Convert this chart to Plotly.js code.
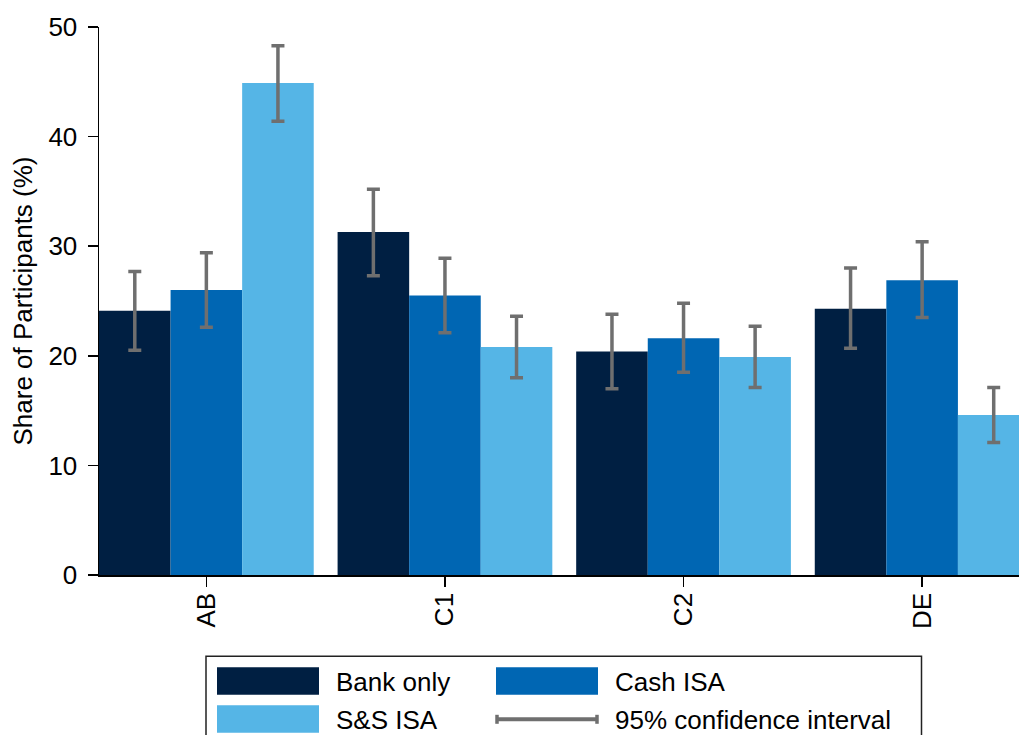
<!DOCTYPE html>
<html>
<head>
<meta charset="utf-8">
<script src="https://cdn.plot.ly/plotly-3.0.1.min.js"></script>
<style>html,body{margin:0;padding:0;overflow:hidden;background:#fff}</style>
</head>
<body>
<div id="chart" style="width:1019px;height:735px"></div>
<script>
const categories = ["AB", "C1", "C2", "DE"];
const seriesNames = ["Bank only", "Cash ISA", "S&S ISA"];
const bankOnly = [24.1, 31.3, 20.4, 24.3];
const bankLow  = [20.5, 27.3, 17.0, 20.7];
const bankHigh = [27.7, 35.2, 23.8, 28.0];
const cashIsa  = [26.0, 25.5, 21.6, 26.9];
const cashLow  = [22.6, 22.1, 18.5, 23.5];
const cashHigh = [29.4, 28.9, 24.8, 30.4];
const ssIsa    = [44.9, 20.8, 19.9, 14.6];
const ssLow    = [41.4, 18.0, 17.1, 12.1];
const ssHigh   = [48.3, 23.6, 22.7, 17.1];
const yTicks = [0, 10, 20, 30, 40, 50];
const ciLabel = "95% confidence interval";

const colors = ["#001f42", "#0066b3", "#55b5e6"];
const errColor = "#6f6f6f";
const FONT = "Liberation Sans, Arial, Helvetica, sans-serif";
const FS = 26;

function mk(name, vals, lo, hi, color) {
  return {
    type: "bar", name: name, x: categories, y: vals,
    marker: {color: color, line: {width: 0}},
    error_y: {
      type: "data", symmetric: false,
      array: vals.map((v, i) => hi[i] - v),
      arrayminus: vals.map((v, i) => v - lo[i]),
      color: errColor, thickness: 3.5, width: 6.5
    },
    showlegend: false, hoverinfo: "skip"
  };
}
const data = [
  mk(seriesNames[0], bankOnly, bankLow, bankHigh, colors[0]),
  mk(seriesNames[1], cashIsa, cashLow, cashHigh, colors[1]),
  mk(seriesNames[2], ssIsa, ssLow, ssHigh, colors[2])
];

// plot area in pixels
const L = 99, R = 1019, T = 26.7, B = 574.7;
const px = x => (x - L) / (R - L);
const py = y => (B - y) / (B - T);

const shapes = [];
const annotations = [];
// legend box
shapes.push({type: "rect", xref: "paper", yref: "paper",
  x0: px(206), x1: px(921.5), y0: py(760), y1: py(656),
  line: {color: "#222", width: 1.5}, fillcolor: "rgba(0,0,0,0)"});
// swatches
const sw = [
  {x0: 217, x1: 319, y0: 667, y1: 694.5, c: colors[0], t: seriesNames[0], tx: 334, ty: 682},
  {x0: 496, x1: 598, y0: 667, y1: 694.5, c: colors[1], t: seriesNames[1], tx: 613, ty: 682},
  {x0: 217, x1: 319, y0: 705, y1: 732.5, c: colors[2], t: seriesNames[2], tx: 334, ty: 719.5}
];
sw.forEach(s => {
  shapes.push({type: "rect", xref: "paper", yref: "paper",
    x0: px(s.x0), x1: px(s.x1), y0: py(s.y1), y1: py(s.y0),
    line: {width: 0}, fillcolor: s.c});
  annotations.push({xref: "paper", yref: "paper", x: px(s.tx), y: py(s.ty),
    xanchor: "left", yanchor: "middle", text: s.t, showarrow: false,
    font: {family: FONT, size: FS, color: "#000"}});
});
// CI legend symbol
shapes.push({type: "line", xref: "paper", yref: "paper",
  x0: px(497), x1: px(597), y0: py(719), y1: py(719), line: {color: errColor, width: 4}});
shapes.push({type: "line", xref: "paper", yref: "paper",
  x0: px(497), x1: px(497), y0: py(714.5), y1: py(723.5), line: {color: errColor, width: 3.5}});
shapes.push({type: "line", xref: "paper", yref: "paper",
  x0: px(597), x1: px(597), y0: py(714.5), y1: py(723.5), line: {color: errColor, width: 3.5}});
annotations.push({xref: "paper", yref: "paper", x: px(613), y: py(719.5),
  xanchor: "left", yanchor: "middle", text: ciLabel, showarrow: false,
  font: {family: FONT, size: FS, color: "#000"}});

const layout = {
  width: 1019, height: 735,
  margin: {l: L, r: 1019 - R, t: T, b: 735 - B, pad: 0},
  paper_bgcolor: "#fff", plot_bgcolor: "#fff",
  barmode: "group", bargap: 0.1, bargroupgap: 0,
  font: {family: FONT, size: FS, color: "#000"},
  showlegend: false,
  xaxis: {
    type: "category", range: [-0.45, 3.406],
    showline: true, linecolor: "#000", linewidth: 1.5,
    ticks: "outside", ticklen: 10, tickwidth: 1.5, tickcolor: "#000",
    tickangle: -90, ticklabelstandoff: -4,
    showgrid: false, zeroline: false,
    tickfont: {family: FONT, size: FS, color: "#000"}
  },
  yaxis: {
    range: [0, 50], tickvals: yTicks, ticktext: yTicks.map(String),
    showline: true, linecolor: "#000", linewidth: 1.5,
    ticks: "outside", ticklen: 10, tickwidth: 1.5, tickcolor: "#000",
    ticklabelstandoff: 5,
    showgrid: false, zeroline: false,
    tickfont: {family: FONT, size: FS, color: "#000"},
    title: {text: "Share of Participants (%)", standoff: 8,
      font: {family: FONT, size: 26, color: "#000"}}
  },
  shapes: shapes,
  annotations: annotations
};

Plotly.newPlot("chart", data, layout, {displayModeBar: false, staticPlot: true});
</script>
</body>
</html>
